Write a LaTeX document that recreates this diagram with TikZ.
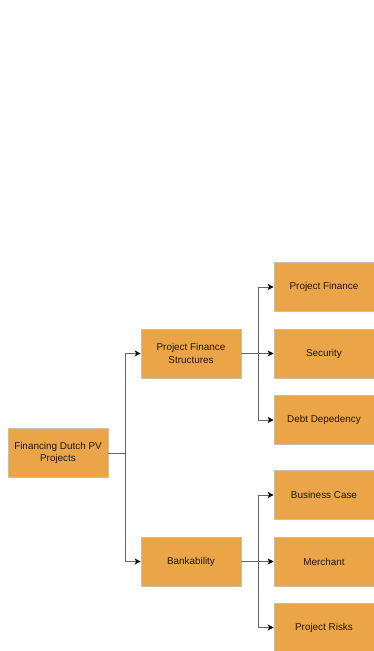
\documentclass[tikz,border=0pt]{standalone}
\usepackage{fontspec}
\setmainfont{Liberation Sans}
\usetikzlibrary{arrows.meta}
\definecolor{boxfill}{RGB}{236,165,70}
\definecolor{boxline}{RGB}{200,190,175}
\definecolor{conn}{RGB}{100,100,100}
\tikzset{
  box/.style={draw=boxline, line width=0.6pt, fill=boxfill, minimum width=100pt, minimum height=49pt, inner sep=2pt, align=center, font=\fontsize{9.9pt}{12.5pt}\selectfont, text=black!90},
  conn/.style={draw=conn, line width=0.9pt},
  arr/.style={conn, -{Stealth[length=6pt,width=6pt,inset=1.5pt,fill=black,color=black]}}
}
\begin{document}
\begin{tikzpicture}[x=1pt,y=1pt]
\useasboundingbox (0,0) rectangle (374,651);
\node[box] (root) at (58,198) {Financing Dutch PV\\Projects};
\node[box] (pfs) at (191,297.5) {Project Finance\\Structures};
\node[box] (bank) at (191,89.5) {Bankability};
\node[box] (pf) at (324,364) {Project Finance};
\node[box] (sec) at (324,297.5) {Security};
\node[box] (debt) at (324,231) {Debt Depedency};
\node[box] (bc) at (324,156) {Business Case};
\node[box] (mer) at (324,89.5) {Merchant};
\node[box] (risk) at (324,23.5) {Project Risks};
\coordinate (j1) at ([xshift=17pt]root.east);
\coordinate (j2) at ([xshift=17pt]pfs.east);
\coordinate (j3) at ([xshift=17pt]bank.east);
\draw[arr] (root.east) -- (j1) |- (pfs.west);
\draw[arr] (root.east) -- (j1) |- (bank.west);
\draw[arr] (pfs.east) -- (j2) |- (pf.west);
\draw[arr] (pfs.east) -- (sec.west);
\draw[arr] (pfs.east) -- (j2) |- (debt.west);
\draw[arr] (bank.east) -- (j3) |- (bc.west);
\draw[arr] (bank.east) -- (mer.west);
\draw[arr] (bank.east) -- (j3) |- (risk.west);
\end{tikzpicture}
\end{document}
